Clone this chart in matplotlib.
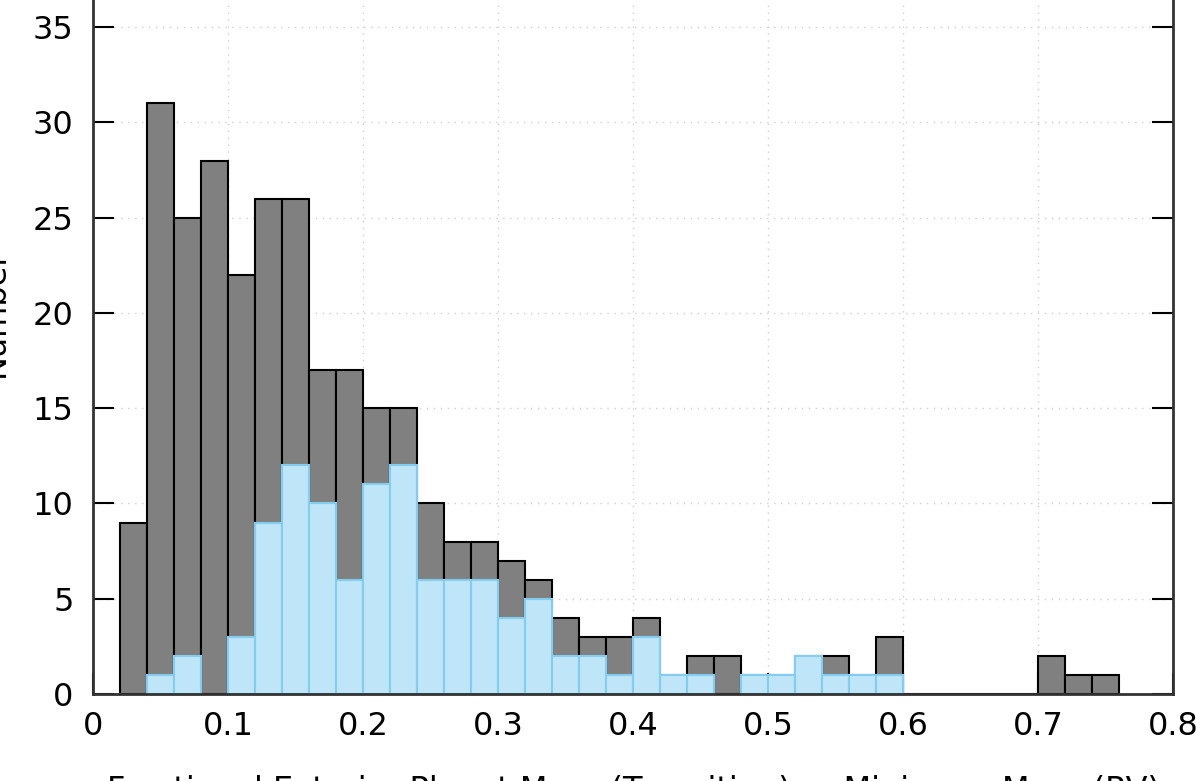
import numpy as np
import matplotlib
matplotlib.use('Agg')
import matplotlib.pyplot as plt

plt.rcParams['font.family'] = ['DejaVu Sans']

# bin left edges (width 0.02)
bin_left = [0.02, 0.04, 0.06, 0.08, 0.10, 0.12, 0.14, 0.16, 0.18, 0.20,
            0.22, 0.24, 0.26, 0.28, 0.30, 0.32, 0.34, 0.36, 0.38, 0.40,
            0.42, 0.44, 0.46, 0.48, 0.50, 0.52, 0.54, 0.56, 0.58, 0.60,
            0.62, 0.64, 0.66, 0.68, 0.70, 0.72, 0.74]
# all systems (grey)
n_all = [9, 31, 25, 28, 22, 26, 26, 17, 17, 15,
         15, 10, 8, 8, 7, 6, 4, 3, 3, 4,
         1, 2, 2, 1, 1, 2, 2, 1, 3, 0,
         0, 0, 0, 0, 2, 1, 1]
# subset (light blue)
n_sub = [0, 1, 2, 0, 3, 9, 12, 10, 6, 11,
         12, 6, 6, 6, 4, 5, 2, 2, 1, 3,
         1, 1, 0, 1, 1, 2, 1, 1, 1, 0,
         0, 0, 0, 0, 0, 0, 0]
bin_w = 0.02

xticks = [0, 0.1, 0.2, 0.3, 0.4, 0.5, 0.6, 0.7, 0.8]
xtick_labels = ['0', '0.1', '0.2', '0.3', '0.4', '0.5', '0.6', '0.7', '0.8']
yticks = [0, 5, 10, 15, 20, 25, 30, 35, 40]

fig = plt.figure(figsize=(11.96, 7.81), dpi=100)
# axes top runs off the figure like in the reference crop
ax = fig.add_axes([0.0778, 0.1114, 0.9030, 0.9757])

ax.bar(bin_left, n_all, width=bin_w, align='edge', color='#808080',
       edgecolor='black', linewidth=1.5, zorder=2)
sub_x = [x for x, n in zip(bin_left, n_sub) if n > 0]
sub_n = [n for n in n_sub if n > 0]
ax.bar(sub_x, sub_n, width=bin_w, align='edge', color='#bee6f8',
       edgecolor='#84cdf0', linewidth=1.5, zorder=3)

ax.set_xlim(0, 0.8)
ax.set_ylim(0, 40)
ax.set_xticks(xticks)
ax.set_xticklabels(xtick_labels)
ax.set_yticks(yticks)

ax.grid(True, linestyle=(0, (1, 4)), color='#d0d0d0', linewidth=1.0, zorder=0)
ax.set_axisbelow(True)

ax.tick_params(direction='in', length=15, width=1.5, labelsize=23,
               top=True, right=True, pad=12, colors='black')
ax.tick_params(axis='y', pad=14)
for s in ax.spines.values():
    s.set_linewidth(2)
    s.set_color('#333333')
    s.set_zorder(5)

ax.set_xlabel('Fractional Exterior Planet Mass (Transiting) or Minimum Mass (RV)',
              fontsize=23, labelpad=24)
ax.set_ylabel('Number', fontsize=23, labelpad=16)

fig.savefig('out.png', dpi=100)
